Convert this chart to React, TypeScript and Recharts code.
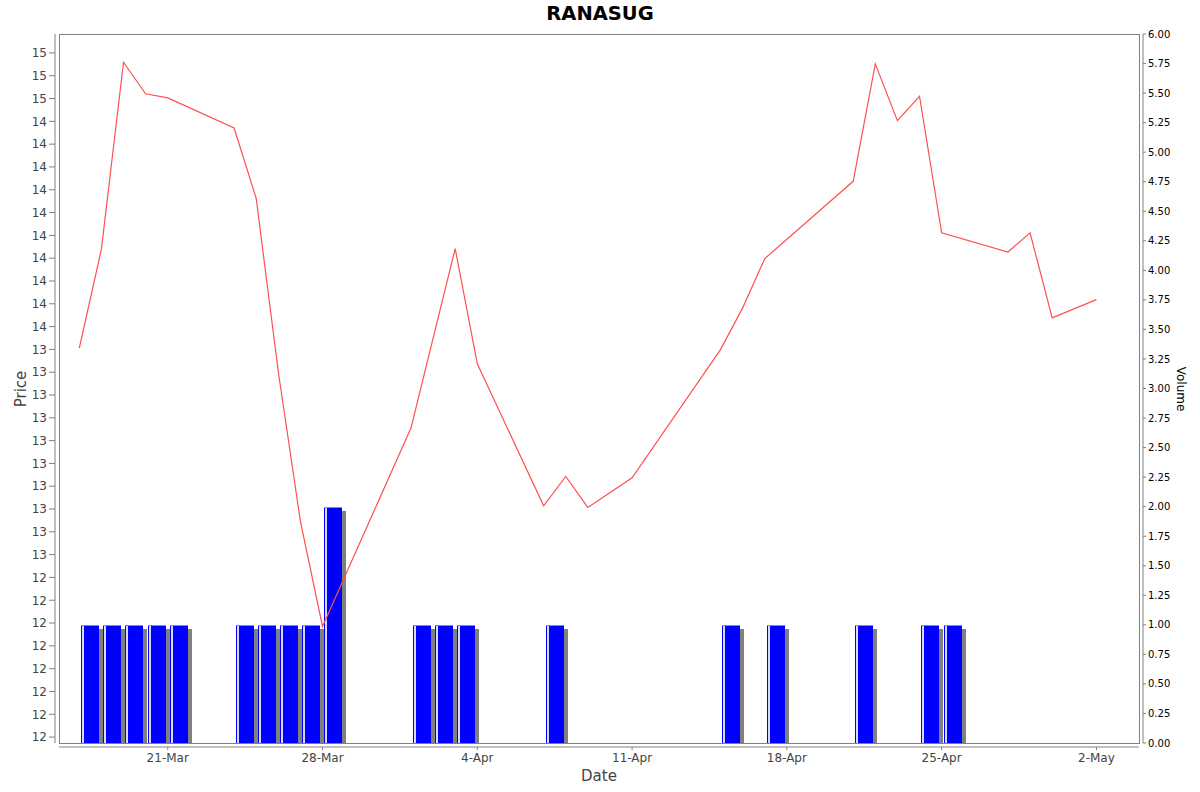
import * as React from "react"
import { ComposedChart, Bar, Line, XAxis, YAxis } from "recharts"

// trading days (2014), closing price and volume
const dates = [
  "2014-03-17", "2014-03-18", "2014-03-19", "2014-03-20", "2014-03-21",
  "2014-03-24", "2014-03-25", "2014-03-26", "2014-03-27", "2014-03-28",
  "2014-04-01", "2014-04-02", "2014-04-03", "2014-04-04",
  "2014-04-07", "2014-04-08", "2014-04-09", "2014-04-11",
  "2014-04-15", "2014-04-16", "2014-04-17",
  "2014-04-21", "2014-04-22", "2014-04-23", "2014-04-24", "2014-04-25",
  "2014-04-28", "2014-04-29", "2014-04-30", "2014-05-02",
]
const prices: (number | null)[] = [
  13.906, 14.34, 15.159, 15.021, 15.003,
  14.871, 14.562, 13.802, 13.146, 12.685,
  13.555, null, 14.342, 13.837,
  13.214, 13.343, 13.207, 13.337,
  13.899, 14.082, 14.298,
  14.637, 15.152, 14.903, 15.01, 14.411,
  14.327, 14.411, 14.038, 14.118,
]
const volumes = [
  1, 1, 1, 1, 1,
  1, 1, 1, 1, 2,
  1, 1, 1, 0,
  1, 0, 0, 0,
  1, 0, 1,
  1, 0, 0, 1, 1,
  0, 0, 0, 0,
]

const dateTicks = ["2014-03-21", "2014-03-28", "2014-04-04", "2014-04-11", "2014-04-18", "2014-04-25", "2014-05-02"]
const priceTicks = [
  12.2, 12.3, 12.4, 12.5, 12.6, 12.7, 12.8, 12.9, 13.0, 13.1, 13.2, 13.3, 13.4, 13.5, 13.6, 13.7,
  13.8, 13.9, 14.0, 14.1, 14.2, 14.3, 14.4, 14.5, 14.6, 14.7, 14.8, 14.9, 15.0, 15.1, 15.2,
]
const volumeTicks = [
  0, 0.25, 0.5, 0.75, 1, 1.25, 1.5, 1.75, 2, 2.25, 2.5, 2.75, 3,
  3.25, 3.5, 3.75, 4, 4.25, 4.5, 4.75, 5, 5.25, 5.5, 5.75, 6,
]

const DAY = 86400000
const BASE = Date.UTC(2014, 2, 17)
const MONTHS = ["Jan", "Feb", "Mar", "Apr", "May", "Jun", "Jul", "Aug", "Sep", "Oct", "Nov", "Dec"]
const toDay = (s: string) => (Date.parse(s + "T00:00:00Z") - BASE) / DAY
const fmtDay = (d: number) => {
  const dt = new Date(BASE + Math.round(d) * DAY)
  return `${dt.getUTCDate()}-${MONTHS[dt.getUTCMonth()]}`
}

const data = dates.map((s, i) => ({ d: toDay(s), p: prices[i], v: volumes[i] }))

const FONT = "'DejaVu Sans', Verdana, sans-serif"

// JFreeChart-like bar: drawn from the date to the right, with a drop shadow
function VolBar(props: any) {
  const { x, y, width, height } = props
  if (!height || height <= 0) return null
  const left = Math.round(x + width / 2) + 2
  const top = Math.round(y)
  const h = Math.round(y + height) - top
  const w = 18
  return (
    <g shapeRendering="crispEdges">
      <rect x={left + 4} y={top + 4} width={w} height={h - 4} fill="#808080" />
      <rect x={left} y={top} width={w} height={h} fill="#0000ff" />
      <rect x={left + 1} y={top} width={2} height={h} fill="#ffffff" opacity={0.85} />
      <rect x={left} y={top} width={w} height={1} fill="#8080ff" />
    </g>
  )
}

export default function App() {
  return (
    <div style={{ position: "absolute", left: 0, top: 0, width: 1200, height: 792, background: "#fff" }}>
      <ComposedChart
        width={1200}
        height={792}
        data={data}
        margin={{ top: 34, right: 0, bottom: 0, left: 0 }}
      >
        <XAxis
          dataKey="d"
          type="number"
          domain={[-0.918, 47.926]}
          allowDataOverflow
          ticks={dateTicks.map(toDay)}
          tickFormatter={fmtDay}
          height={49}
          interval={0}
          tickSize={3}
          tickMargin={7}
          axisLine={{ stroke: "#808080", transform: "translate(0 4)" }}
          tickLine={{ stroke: "#808080", transform: "translate(0 4)" }}
          tick={{ fill: "#444444", fontSize: 12, fontFamily: FONT }}
        />
        <YAxis
          yAxisId="price"
          orientation="left"
          width={59}
          domain={[12.174, 15.283]}
          allowDataOverflow
          ticks={priceTicks}
          interval={0}
          tickFormatter={(v: number) => String(Math.floor(v + 1e-6))}
          tickSize={6}
          tickMargin={6}
          axisLine={{ stroke: "#808080", transform: "translate(-4 0)" }}
          tickLine={{ stroke: "#808080", transform: "translate(-4 0)" }}
          tick={{ fill: "#444444", fontSize: 12, fontFamily: FONT }}
        />
        <YAxis
          yAxisId="vol"
          orientation="right"
          width={61}
          domain={[0, 6]}
          allowDataOverflow
          ticks={volumeTicks}
          interval={0}
          tickFormatter={(v: number) => v.toFixed(2)}
          tickSize={3}
          tickMargin={6}
          axisLine={{ stroke: "#808080", transform: "translate(4 0)" }}
          tickLine={{ stroke: "#808080", transform: "translate(4 0)" }}
          tick={{ fill: "#000000", fontSize: 10, fontFamily: FONT }}
        />
        <Bar
          yAxisId="vol"
          dataKey="v"
          barSize={18}
          shape={VolBar}
          isAnimationActive={false}
        />
        <Line
          yAxisId="price"
          dataKey="p"
          type="linear"
          stroke="#ff5050"
          strokeWidth={1.2}
          dot={false}
          activeDot={false}
          connectNulls
          isAnimationActive={false}
        />
      </ComposedChart>
      <svg
        width={1200}
        height={792}
        style={{ position: "absolute", left: 0, top: 0, pointerEvents: "none" }}
      >
        <rect x={59.5} y={34.5} width={1080} height={709} fill="none" stroke="#808080" />
        <text x={600} y={19.5} textAnchor="middle" fontFamily={FONT} fontWeight="bold" fontSize={19.5} fill="#000">
          RANASUG
        </text>
        <text x={599} y={781} textAnchor="middle" fontFamily={FONT} fontSize={15} fill="#444444">
          Date
        </text>
        <text
          transform="translate(26 389) rotate(-90)"
          textAnchor="middle"
          fontFamily={FONT}
          fontSize={15}
          fill="#444444"
        >
          Price
        </text>
        <text
          transform="translate(1177 389) rotate(90)"
          textAnchor="middle"
          fontFamily={FONT}
          fontSize={12}
          fill="#000000"
        >
          Volume
        </text>
      </svg>
    </div>
  )
}
